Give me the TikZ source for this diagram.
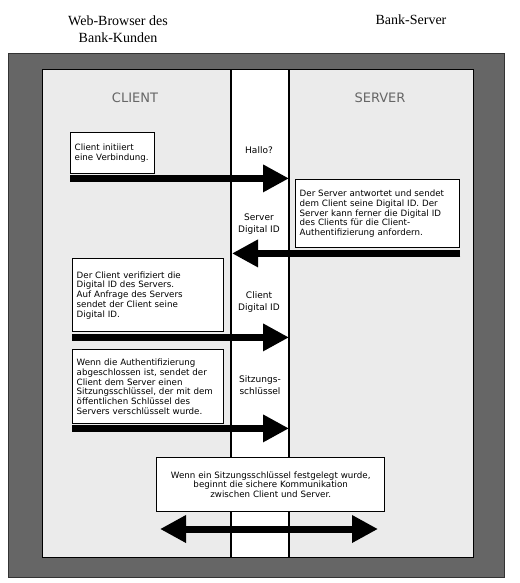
\documentclass[tikz,border=0pt]{standalone}
\usepackage{fontspec}
\setmainfont{Liberation Serif}
\setsansfont{DejaVu Sans}
\usetikzlibrary{arrows.meta,positioning}

\begin{document}
\begin{tikzpicture}[
  x=1pt, y=-1pt,
  font=\sffamily\fontsize{8.7}{9.8}\selectfont,
  head/.style={font=\rmfamily\fontsize{14}{17}\selectfont, align=center},
  side/.style={font=\sffamily\fontsize{13}{15}\selectfont, text=black!60},
  note/.style={rectangle, draw=black, line width=1.4pt, fill=white,
               anchor=north west, align=left, inner xsep=4pt},
  tag/.style={align=center, font=\sffamily\fontsize{9}{12}\selectfont},
  msg/.style={line width=7pt, -{Triangle[length=26pt,width=26pt]}},
  both/.style={line width=7pt,
               {Triangle[length=26pt,width=26pt]}-{Triangle[length=26pt,width=26pt]}}
]
\useasboundingbox (0,0) rectangle (519,583);

% frame and the two sides
\fill[black!60] (8,53) rectangle (504,577);
\draw[black!80, line width=0.8pt] (8,53) rectangle (504,577);
\fill[black!8] (42,70) rectangle (473,557);
\fill[white] (231,70) rectangle (289,557);
\draw[line width=1pt] (42,70) rectangle (473,557);
\draw[line width=1.2pt] (231,70) -- (231,557) (289,70) -- (289,557);
\coordinate (col-l) at (232,0);
\coordinate (col-r) at (289,0);

\node[head] (browser) at (118,29) {Web-Browser des\\Bank-Kunden};
\node[head] (bank) at (411,20) {Bank-Server};

\node[side] (client) at (135,98) {CLIENT};
\node[side] (server) at (380,98) {SERVER};

\node[note, text width=76pt, minimum height=41pt] (init) at (70,132)
  {Client initiiert\\eine Verbindung.};
\node[note, text width=156pt, minimum height=68pt] (reply) at (295,179)
  {Der Server antwortet und sendet\\dem Client seine Digital ID. Der\\Server kann ferner die Digital ID\\des Clients für die Client-\\Authentifizierung anfordern.};
\node[note, text width=143pt, minimum height=73pt] (verify) at (72,258)
  {Der Client verifiziert die\\Digital ID des Servers.\\Auf Anfrage des Servers\\sendet der Client seine\\Digital ID.};
\node[note, text width=143pt, minimum height=74pt] (key) at (72,349)
  {Wenn die Authentifizierung\\abgeschlossen ist, sendet der\\Client dem Server einen\\Sitzungsschlüssel, der mit dem\\öffentlichen Schlüssel des\\Servers verschlüsselt wurde.};
\node[note, text width=220pt, align=center, minimum height=54pt] (secure) at (156,457)
  {Wenn ein Sitzungsschlüssel festgelegt wurde,\\beginnt die sichere Kommunikation\\zwischen Client und Server.};

\node[tag] (hallo) at (259,150) {Hallo?};
\node[tag] (sid) at (259,224) {Server\\Digital ID};
\node[tag] (cid) at (259,302) {Client\\Digital ID};
\node[tag] (skey) at (260,385) {Sitzungs-\\schlüssel};

\draw[msg] ([yshift=-4pt]init.south west) -- ([yshift=-4pt]init.south west -| col-r);
\draw[msg] ([yshift=-5pt]reply.south east) -- ([yshift=-5pt]reply.south east -| col-l);
\draw[msg] ([yshift=-5pt]verify.south west) -- ([yshift=-5pt]verify.south west -| col-r);
\draw[msg] ([yshift=-4pt]key.south west) -- ([yshift=-4pt]key.south west -| col-r);

\coordinate (talk-l) at (160,529);
\coordinate (talk-r) at (378,529);
\draw[both] (talk-l) -- (talk-r);
\end{tikzpicture}
\end{document}
